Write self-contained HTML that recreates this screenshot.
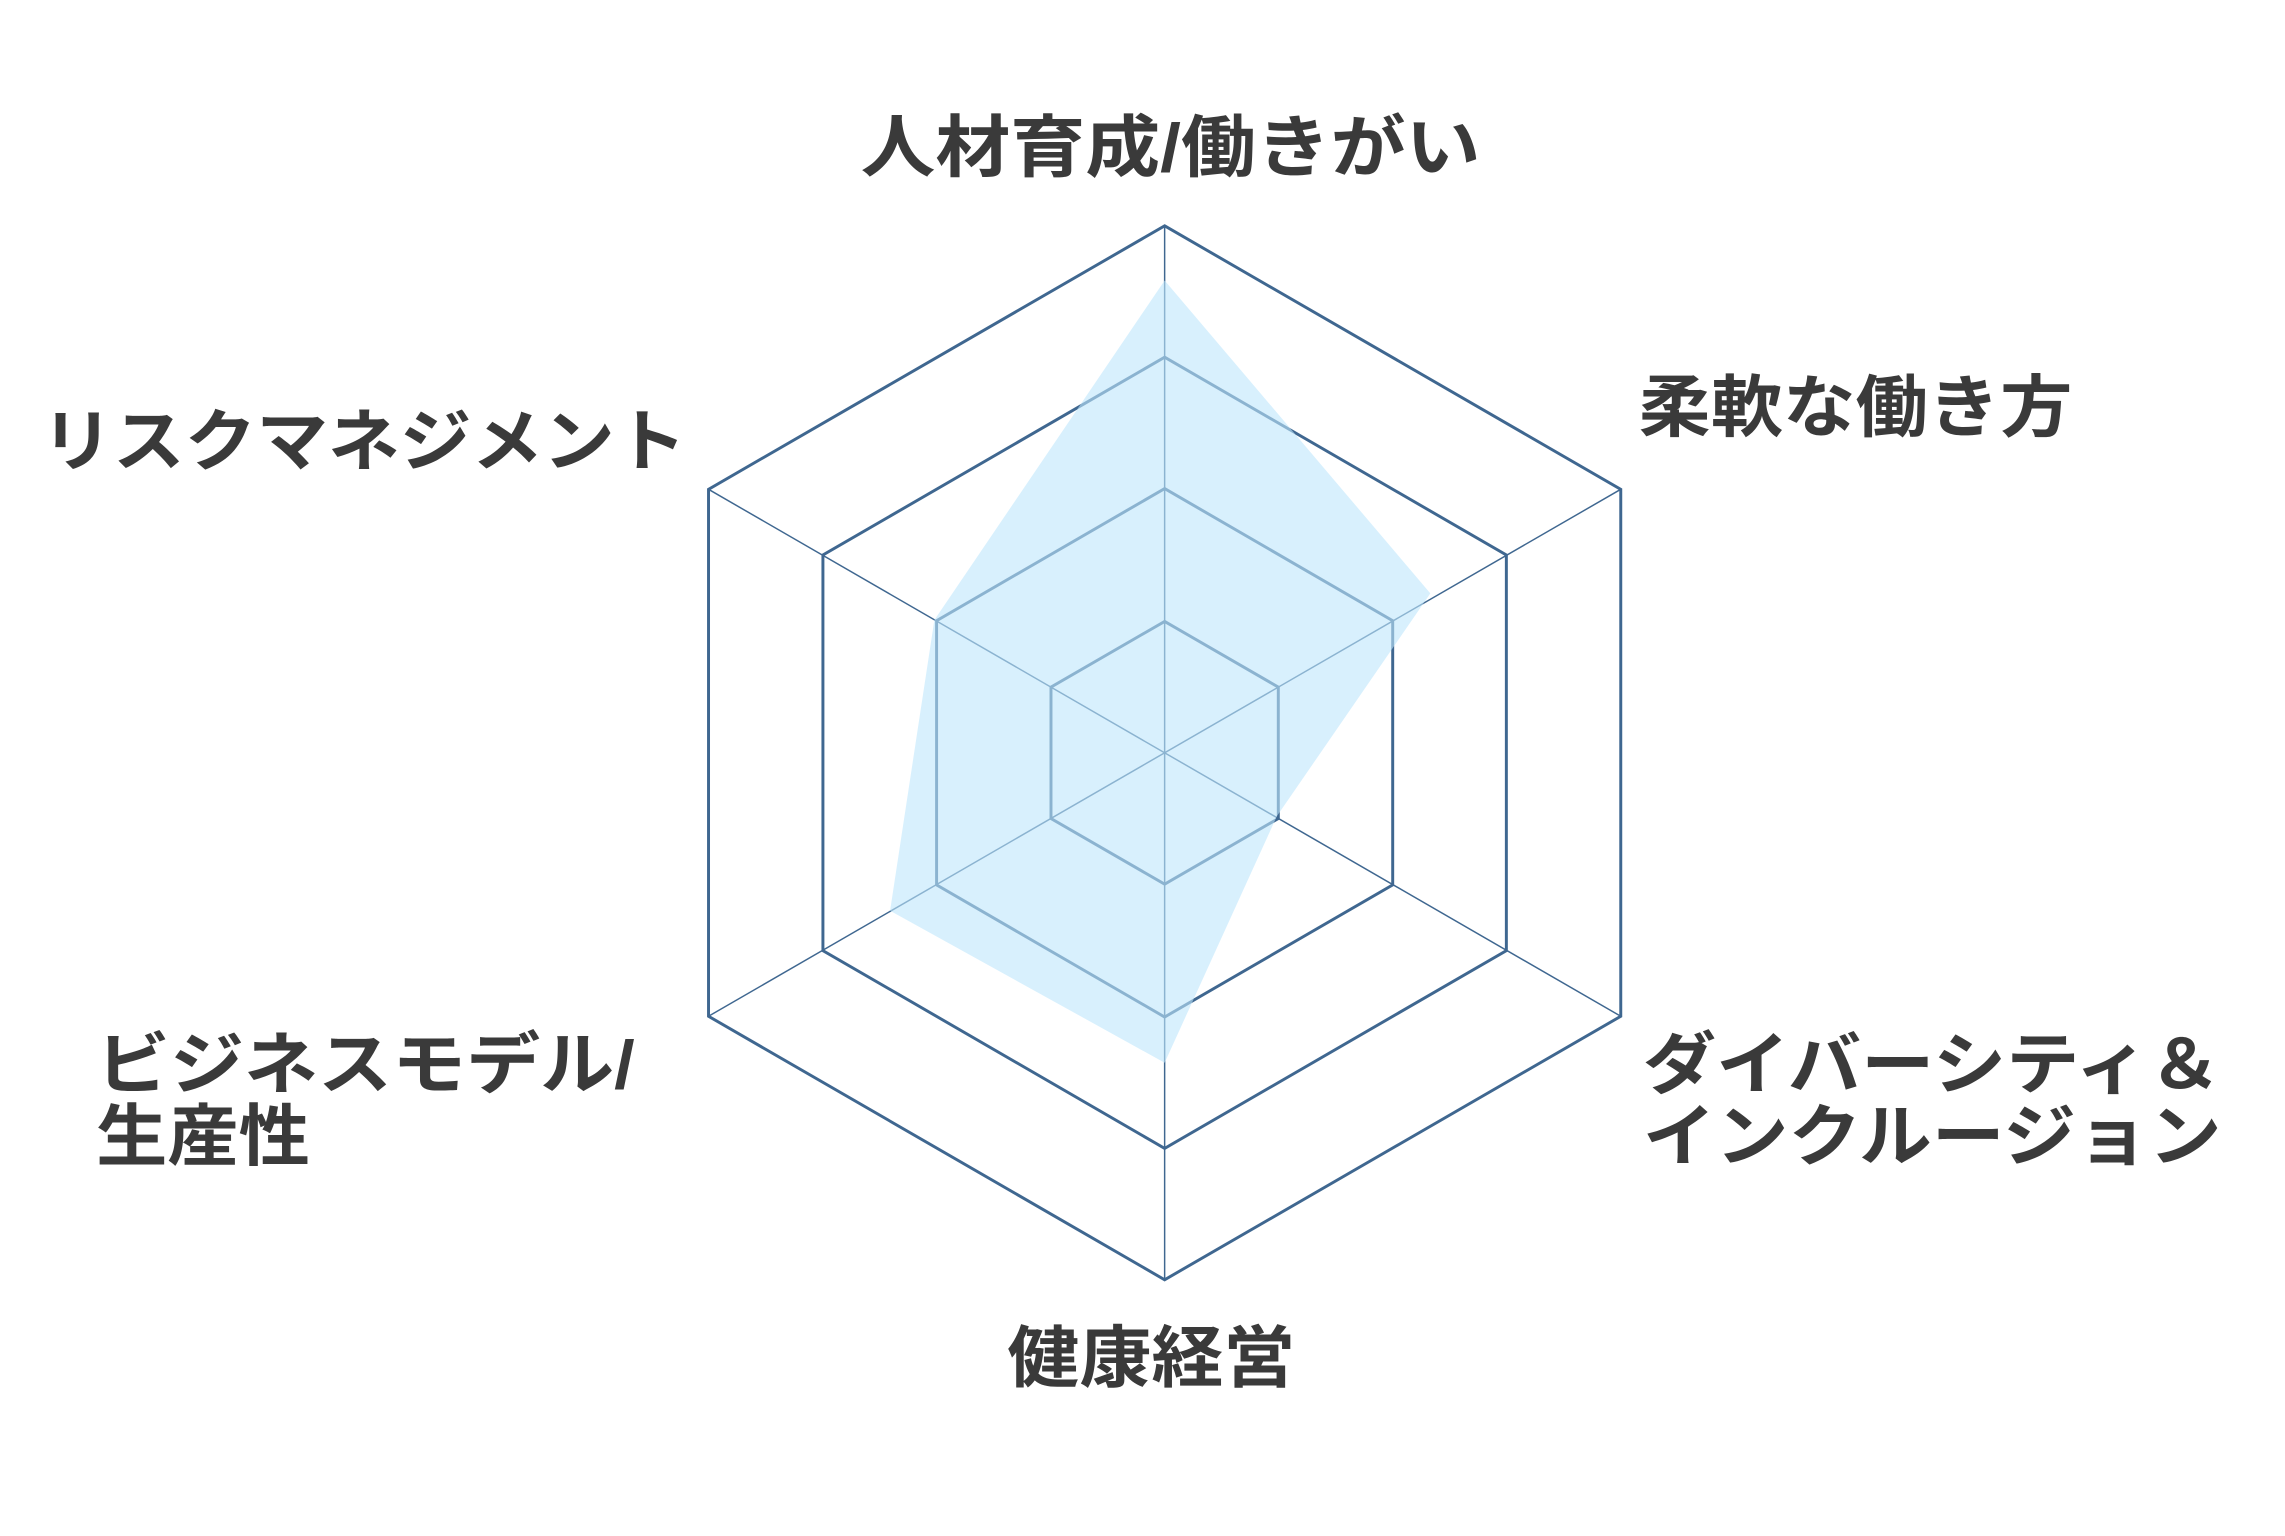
<!DOCTYPE html>
<html><head><meta charset="utf-8"><style>
html,body{margin:0;padding:0;background:#fff;}
svg{display:block;}
text{font-family:"Liberation Sans","Noto Sans CJK JP",sans-serif;font-weight:bold;fill:#3a3a3a;font-size:46px;}
</style></head><body>
<svg width="2285" height="1536" viewBox="0 0 1548 1040.6" preserveAspectRatio="none">
<g fill="none" stroke="#3f6790">
<polygon stroke-width="2" points="789,153 1098,331.5 1098,688.5 789,867 480,688.5 480,331.5"/>
<polygon stroke-width="2" points="789,242 1020.5,376 1020.5,644 789,778 557.5,644 557.5,376"/>
<polygon stroke-width="2" points="789,331 943.5,420.5 943.5,599.5 789,689 634.5,599.5 634.5,420.5"/>
<polygon stroke-width="2" points="789,421 866,465.5 866,554.5 789,599 712,554.5 712,465.5"/>
<g stroke-width="1">
<line x1="789" y1="153" x2="789" y2="867"/>
<line x1="1098" y1="331.5" x2="480" y2="688.5"/>
<line x1="1098" y1="688.5" x2="480" y2="331.5"/>
</g>
</g>
<polygon fill="rgba(190,230,252,0.6)" points="789,190 969,402 865,553 789,720 603,617 633,420"/>
<text x="793" y="116" text-anchor="middle" textLength="420" lengthAdjust="spacingAndGlyphs">人材育成/働きがい</text>
<text x="1110" y="292" textLength="294" lengthAdjust="spacingAndGlyphs">柔軟な働き方</text>
<text x="28" y="315" textLength="437" lengthAdjust="spacingAndGlyphs">リスクマネジメント</text>
<text x="1113" y="737" textLength="392" lengthAdjust="spacingAndGlyphs">ダイバーシティ＆</text>
<text x="1113" y="786" textLength="392" lengthAdjust="spacingAndGlyphs">インクルージョン</text>
<text x="65" y="737" textLength="365" lengthAdjust="spacingAndGlyphs">ビジネスモデル/</text>
<text x="65" y="786" textLength="145" lengthAdjust="spacingAndGlyphs">生産性</text>
<text x="780" y="936" text-anchor="middle" textLength="195" lengthAdjust="spacingAndGlyphs">健康経営</text>
</svg>
</body></html>
